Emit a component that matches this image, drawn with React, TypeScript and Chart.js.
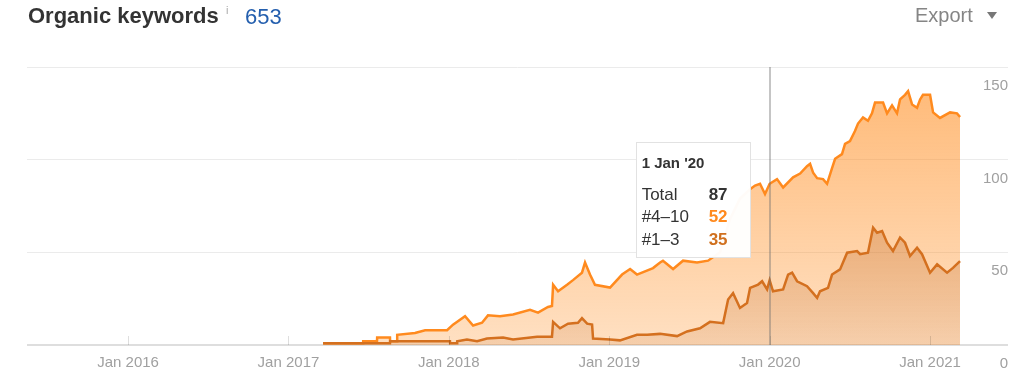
import React, { useEffect, useRef, useState } from "react";
import { Chart, registerables } from "chart.js";

Chart.register(...registerables);

// ---- axis data ----
const X_MIN = 2015.37;
const X_MAX = 2021.486;
const TICK_YEARS = [2016, 2017, 2018, 2019, 2020, 2021];
const TICK_LABELS = ["Jan 2016", "Jan 2017", "Jan 2018", "Jan 2019", "Jan 2020", "Jan 2021"];
const Y_MAX = 150;
const Y_STEP = 50;

// ---- series: Total (all positions 1-10) ----
const TOTAL_X = [
  2017.216, 2017.465, 2017.466, 2017.552, 2017.553, 2017.633, 2017.634, 2017.677, 2017.678, 2017.789,
  2017.852, 2017.989, 2018.026, 2018.101, 2018.151, 2018.207, 2018.244, 2018.319, 2018.4, 2018.506,
  2018.556, 2018.618, 2018.643, 2018.65, 2018.681, 2018.737, 2018.774, 2018.83, 2018.849, 2018.88,
  2018.911, 2019.005, 2019.08, 2019.13, 2019.173, 2019.273, 2019.317, 2019.335, 2019.398, 2019.46,
  2019.547, 2019.616, 2019.691, 2019.753, 2019.815, 2019.878, 2019.909, 2019.94, 2019.971, 2020.0,
  2020.046, 2020.084, 2020.146, 2020.19, 2020.233, 2020.252, 2020.271, 2020.296, 2020.333, 2020.358,
  2020.389, 2020.408, 2020.451, 2020.47, 2020.501, 2020.532, 2020.551, 2020.582, 2020.613, 2020.638,
  2020.657, 2020.707, 2020.732, 2020.763, 2020.794, 2020.813, 2020.844, 2020.863, 2020.888, 2020.919,
  2020.938, 2020.956, 2021.0, 2021.019, 2021.062, 2021.125, 2021.168, 2021.187,
];
const TOTAL_Y = [
  1, 1, 2, 2, 4, 4, 2, 2, 5.5, 6.5,
  8, 8, 11, 15.5, 10.5, 12, 16, 15.5, 16.5, 19,
  17.5, 20.5, 21, 32.5, 29, 32.5, 35, 39, 44.5, 38,
  32.5, 31, 38, 41, 38, 41.5, 44.5, 45.5, 41, 45.5,
  44.5, 45.5, 50, 68, 79, 84, 86, 87, 81.5, 87,
  89.5, 85, 90.5, 92.5, 96.5, 97.8, 93, 90, 89.5, 87,
  95.5, 100.5, 103, 108.5, 110, 115.5, 119.5, 122.8, 121, 125,
  130.8, 130.8, 125, 129.3, 125, 132.5, 135, 137, 129.8, 128,
  132.5, 135, 135, 125.5, 122.5, 125.5, 125, 123,
];

// ---- series: positions #1–3 ----
const TOP3_X = [
  2017.216, 2017.633, 2017.634, 2018.007, 2018.008, 2018.051, 2018.052, 2018.113, 2018.176, 2018.238,
  2018.338, 2018.4, 2018.55, 2018.643, 2018.65, 2018.693, 2018.743, 2018.805, 2018.83, 2018.862,
  2018.893, 2018.899, 2019.005, 2019.067, 2019.173, 2019.236, 2019.317, 2019.423, 2019.485, 2019.566,
  2019.628, 2019.71, 2019.741, 2019.772, 2019.815, 2019.859, 2019.878, 2019.928, 2019.953, 2019.984,
  2020.0, 2020.021, 2020.084, 2020.115, 2020.14, 2020.171, 2020.233, 2020.271, 2020.296, 2020.314,
  2020.364, 2020.389, 2020.439, 2020.483, 2020.545, 2020.564, 2020.613, 2020.645, 2020.67, 2020.701,
  2020.732, 2020.769, 2020.813, 2020.844, 2020.875, 2020.919, 2020.95, 2021.0, 2021.044, 2021.106,
  2021.143, 2021.187,
];
const TOP3_Y = [
  1, 1, 2, 2, 1, 1, 2, 3, 2, 3.5,
  4, 3, 4.5, 4.5, 12.5, 9, 11.5, 12, 14.5, 11.5,
  11, 3.5, 3, 2.5, 5.5, 5.5, 6, 4.8, 7.3, 9,
  12.5, 11.8, 24.5, 28, 20, 22.7, 30.8, 32.6, 34.4, 30,
  35, 29, 30, 38, 39, 34.4, 31.7, 28, 25.4, 29,
  30.8, 38, 40.8, 49.8, 50.7, 49, 49.8, 63.3, 60.6, 61.5,
  55.2, 50.7, 58, 55.2, 48, 52.5, 49, 39, 43.5, 39,
  41.6, 45.3,
];

// ---- tooltip content ----
const TOOLTIP_DATE = 2020.0;
const TOOLTIP_TITLE = "1 Jan '20";
const TOOLTIP_LABELS = ["Total", "#4–10", "#1–3"];
const TOOLTIP_VALUES = [87, 52, 35];
const TOOLTIP_COLORS = ["#333333", "#ff8a1e", "#d0701e"];

const FONT = "Arial, 'Liberation Sans', Helvetica, sans-serif";

const makeGrad = (top: string, bottom: string) => (c: any) => {
  const chart = c.chart;
  const area = chart.chartArea;
  if (!area) return top;
  const g = chart.ctx.createLinearGradient(0, area.top, 0, area.bottom);
  g.addColorStop(0, top);
  g.addColorStop(1, bottom);
  return g;
};

const decorPlugin = {
  id: "decor",
  afterDatasetsDraw(chart: any) {
    const { ctx, chartArea, scales } = chart;
    ctx.save();
    // small tick marks on the baseline
    ctx.strokeStyle = "rgba(0,0,0,0.13)";
    ctx.lineWidth = 1;
    TICK_YEARS.forEach((yr) => {
      const x = Math.round(scales.x.getPixelForValue(yr)) + 0.5;
      ctx.beginPath();
      ctx.moveTo(x, chartArea.bottom - 9);
      ctx.lineTo(x, chartArea.bottom);
      ctx.stroke();
    });
    // crosshair
    const cx = Math.round(scales.x.getPixelForValue(TOOLTIP_DATE));
    ctx.strokeStyle = "rgba(110,110,110,0.4)";
    ctx.lineWidth = 2;
    ctx.beginPath();
    ctx.moveTo(cx, chartArea.top);
    ctx.lineTo(cx, chartArea.bottom);
    ctx.stroke();
    ctx.restore();
  },
};

export default function App() {
  const canvasRef = useRef<HTMLCanvasElement>(null);
  const [tip, setTip] = useState<{ left: number; top: number } | null>(null);

  useEffect(() => {
    const canvas = canvasRef.current;
    if (!canvas) return;
    Chart.defaults.font.family = FONT;
    const chart = new Chart(canvas, {
      type: "line",
      data: {
        datasets: [
          {
            label: "#1–3",
            data: TOP3_X.map((x, i) => ({ x, y: TOP3_Y[i] })),
            borderColor: "#d4701f",
            borderWidth: 2.5,
            backgroundColor: makeGrad("rgba(185,90,20,0.5)", "rgba(185,90,20,0.13)"),
            fill: "origin",
            pointRadius: 0,
            tension: 0,
          },
          {
            label: "Total",
            data: TOTAL_X.map((x, i) => ({ x, y: TOTAL_Y[i] })),
            borderColor: "#ff8a1e",
            borderWidth: 2.5,
            backgroundColor: makeGrad("rgba(255,140,30,0.62)", "rgba(255,140,30,0.27)"),
            fill: "origin",
            pointRadius: 0,
            tension: 0,
          },
        ],
      },
      options: {
        responsive: false,
        animation: false,
        events: [],
        layout: { padding: { left: 27, top: 67, right: 16, bottom: 3 } },
        plugins: {
          legend: { display: false },
          tooltip: { enabled: false },
        },
        scales: {
          x: {
            type: "linear",
            min: X_MIN,
            max: X_MAX,
            afterBuildTicks: (axis: any) => {
              axis.ticks = TICK_YEARS.map((v) => ({ value: v }));
            },
            ticks: {
              autoSkip: false,
              maxRotation: 0,
              padding: 9,
              color: "#a0a0a0",
              font: { size: 15, family: FONT },
              callback: (value: any) => TICK_LABELS[TICK_YEARS.indexOf(Number(value))] ?? "",
            },
            grid: { display: false, drawTicks: false },
            border: { display: false },
          },
          y: {
            position: "right",
            min: 0,
            max: Y_MAX,
            ticks: {
              stepSize: Y_STEP,
              mirror: true,
              padding: 0,
              labelOffset: 19,
              color: "#a0a0a0",
              font: { size: 15, family: FONT },
            },
            grid: {
              drawTicks: false,
              color: (c: any) => (c.tick && c.tick.value === 0 ? "#dedede" : "#ebebeb"),
              lineWidth: (c: any) => (c.tick && c.tick.value === 0 ? 2 : 1),
            },
            border: { display: false },
          },
        },
      },
      plugins: [decorPlugin],
    } as any);
    const px = chart.scales.x.getPixelForValue(TOOLTIP_DATE);
    setTip({ left: px - 134, top: chart.chartArea.top + 75 });
    return () => chart.destroy();
  }, []);

  const text = (s: React.CSSProperties): React.CSSProperties => ({
    position: "absolute",
    whiteSpace: "nowrap",
    fontFamily: FONT,
    lineHeight: "20px",
    ...s,
  });

  return (
    <div style={{ position: "absolute", left: 0, top: 0, width: 1024, height: 384, background: "#fff", overflow: "hidden" }}>
      <canvas ref={canvasRef} width={1024} height={384} style={{ position: "absolute", left: 0, top: 0, width: 1024, height: 384 }} />
      <div style={text({ left: 28, top: 4, fontSize: 22, lineHeight: "24px", fontWeight: 700, color: "#333" })}>Organic keywords</div>
      <div style={text({ left: 226, top: 3, fontSize: 11, lineHeight: "14px", color: "#aaa" })}>i</div>
      <div style={text({ left: 245, top: 5, fontSize: 22, lineHeight: "24px", color: "#245fae" })}>653</div>
      <div style={text({ left: 915, top: 3, fontSize: 20, lineHeight: "24px", color: "#858585" })}>Export</div>
      <div
        style={{
          position: "absolute",
          left: 987,
          top: 12,
          width: 0,
          height: 0,
          borderLeft: "5.5px solid transparent",
          borderRight: "5.5px solid transparent",
          borderTop: "7px solid #777",
        }}
      />
      {tip && (
        <div
          style={{
            position: "absolute",
            left: tip.left,
            top: tip.top,
            width: 115,
            height: 116,
            boxSizing: "border-box",
            background: "rgba(255,255,255,0.97)",
            border: "1px solid #e2e2e2",
          }}
        >
          <div style={text({ left: 5, top: 10, fontSize: 15, fontWeight: 700, color: "#333" })}>{TOOLTIP_TITLE}</div>
          {TOOLTIP_LABELS.map((lab, i) => (
            <React.Fragment key={lab}>
              <div style={text({ left: 5, top: [42, 64, 87][i], fontSize: 17, color: "#333" })}>{lab}</div>
              <div style={text({ left: 72, top: [42, 64, 87][i], fontSize: 17, fontWeight: 700, color: TOOLTIP_COLORS[i] })}>
                {TOOLTIP_VALUES[i]}
              </div>
            </React.Fragment>
          ))}
        </div>
      )}
    </div>
  );
}
